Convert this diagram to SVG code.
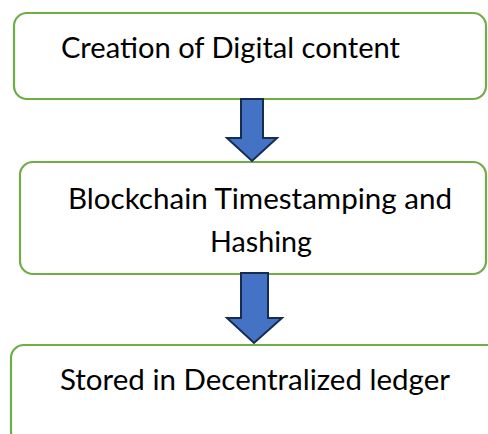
<svg xmlns="http://www.w3.org/2000/svg" width="488" height="434" viewBox="0 0 488 434">
<style>
.box{fill:#ffffff;stroke:#70AD47;stroke-width:2.2}
.arr{fill:#4472C4;stroke:#172C51;stroke-width:2;stroke-linejoin:miter}
.t{font-family:Lato,"Liberation Sans",sans-serif;font-size:28px;fill:#000000}
</style>
<defs>
<clipPath id="clip2"><rect x="0" y="160" width="488" height="97"/></clipPath>
</defs>
<rect width="488" height="434" fill="#ffffff"/>
<g id="node1">
<rect class="box" x="14" y="13" width="472" height="86" rx="13"/>
<text class="t" x="61" y="58" textLength="339" lengthAdjust="spacingAndGlyphs">Creation of Digital content</text>
</g>
<g id="node2">
<rect class="box" x="20" y="162" width="466" height="112" rx="13"/>
<g clip-path="url(#clip2)">
<text class="t" x="68" y="209" textLength="384" lengthAdjust="spacingAndGlyphs">Blockchain Timestamping and</text>
<text class="t" x="210" y="252" textLength="102" lengthAdjust="spacingAndGlyphs">Hashing</text>
</g>
</g>
<g id="node3">
<rect class="box" x="11" y="345" width="490" height="100" rx="13"/>
<text class="t" x="60" y="390" textLength="390" lengthAdjust="spacingAndGlyphs">Stored in Decentralized ledger</text>
</g>
<g id="connectors">
<polygon class="arr" points="241,99 263,99 263,138 277,138 252,161 227,138 241,138"/>
<polygon class="arr" points="241,273 268,273 268,318 282,318 254,343 227,318 241,318"/>
</g>
</svg>
